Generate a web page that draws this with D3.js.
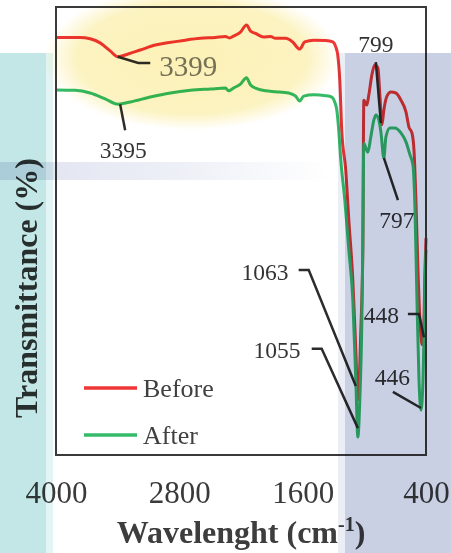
<!DOCTYPE html>
<html>
<head>
<meta charset="utf-8">
<script src="https://cdnjs.cloudflare.com/ajax/libs/d3/7.8.5/d3.min.js"></script>
<style>
body { margin:0; background:#fff; }
svg { display:block; font-family:"Liberation Serif","Times New Roman",serif; }
.overlay { mix-blend-mode: multiply; }
</style>
</head>
<body>
<script>
// FTIR spectra, wavenumber (cm-1) and transmittance (%)
var beforeWave = [4000,3766,3668,3571,3473,3399,3298,3180,3034,2917,2741,2595,2449,2351,2312,2273,2205,2146,2107,2059,1980,1912,1863,1766,1698,1629,1580,1493,1376,1307,1278,1259,1239,1220,1181,1151,1112,1083,1063,1034,1015,1005,976,956,927,898,868,849,829,810,780,741,693,644,595,566,537,517,498,478,459,439,420,410,400];
var beforeT    = [93.2,93.2,92.9,92.0,90.2,88.9,89.5,90.4,91.5,92.0,92.6,93.0,93.2,93.4,93.1,93.5,94.4,96.0,94.6,94.1,93.3,93.4,93.0,93.0,92.2,90.6,92.2,92.6,92.5,92.2,91.1,89.3,83.7,72.5,63.6,52.5,39.1,23.4,12.3,27.9,45.8,79.2,78.1,80.4,84.8,87.1,86.4,80.4,73.7,77.0,80.1,81.0,80.8,79.2,76.6,73.2,71.9,68.1,56.9,41.3,30.1,24.6,30.1,41.3,48.4];

var afterWave = [4000,3815,3668,3522,3395,3278,3083,2888,2693,2498,2351,2322,2273,2205,2146,2107,2039,1961,1863,1737,1668,1629,1590,1493,1376,1317,1288,1268,1249,1229,1190,1151,1112,1083,1063,1044,1024,1015,1005,985,966,937,907,888,859,839,810,790,751,703,644,595,556,527,507,488,468,449,429,410,400];
var afterT    = [81.5,81.4,80.8,79.5,78.3,78.8,79.9,80.8,81.4,81.7,81.9,81.3,81.9,82.8,84.2,82.6,81.7,81.3,81.1,80.8,80.1,79.0,80.1,80.4,80.2,79.9,78.8,77.0,72.5,65.8,56.9,45.8,34.6,16.7,4.0,12.3,30.1,45.8,69.6,68.5,67.6,71.0,74.8,75.9,74.8,72.1,66.3,71.0,73.0,73.0,71.9,69.9,67.0,64.7,54.7,34.6,16.7,10.0,16.7,36.8,45.8];

var tickValues = [4000, 2800, 1600, 400];
var seriesNames = ["Before", "After"];
var seriesColors = ["#ee3636", "#34bb69"];

// peak labels
var peakLabels = ["3399", "3395", "799", "797", "1063", "1055", "448", "446"];

var margin = {top:7, left:56, bottom:98, right:25};
var totalWidth = 451;
var totalHeight = 553;
var width = totalWidth - margin.left - margin.right;
var height = totalHeight - margin.top - margin.bottom;

var svgin = d3.select("body")
    .append("svg")
    .attr("width", totalWidth)
    .attr("height", totalHeight);

var defs = svgin.append("defs");
var glow = defs.append("radialGradient").attr("id", "glow");
glow.append("stop").attr("offset", "0%").attr("stop-color", "#fcf1b6");
glow.append("stop").attr("offset", "78%").attr("stop-color", "#fcf3c2");
glow.append("stop").attr("offset", "100%").attr("stop-color", "#ffffff");

var smear = defs.append("linearGradient").attr("id", "smear")
    .attr("x1", "0%").attr("y1", "0%").attr("x2", "100%").attr("y2", "0%");
smear.append("stop").attr("offset", "0%").attr("stop-color", "#dfe2f0");
smear.append("stop").attr("offset", "55%").attr("stop-color", "#eef0f7");
smear.append("stop").attr("offset", "100%").attr("stop-color", "#ffffff");

svgin.append("rect").attr("width", totalWidth).attr("height", totalHeight).attr("fill", "#fff");

var svg = svgin
    .append("g")
    .attr("transform","translate("+margin.left+","+margin.top+")");

var x = d3.scaleLinear().domain([4000, 400]).range([0, width]);
var y = d3.scaleLinear().domain([0, 100]).range([height, 0]);

var line = d3.line()
    .x(d => x(d[0]))
    .y(d => y(d[1]))
    .curve(d3.curveMonotoneX);

var series = [
  beforeWave.map((w, i) => [w, beforeT[i]]),
  afterWave.map((w, i) => [w, afterT[i]])
];

svg.selectAll("path.spec")
   .data(series)
   .enter()
   .append("path")
   .attr("class", "spec")
   .attr("d", line)
   .attr("fill", "none")
   .attr("stroke", (d, i) => seriesColors[i])
   .attr("stroke-width", 3)
   .attr("stroke-linejoin", "round");

// frame
svg.append("rect")
   .attr("width", width)
   .attr("height", height)
   .attr("fill", "none")
   .attr("stroke", "#3a3a3a")
   .attr("stroke-width", 2);

// leader lines, in data units
var notes = [
  {pts:[[3399,88.9],[3200,87.5],[3083,87.5]], at:[2995,84.6], anchor:"start", size:29, color:"#777"},
  {pts:[[3376,78.3],[3327,72.5]], at:[3346,66.3], anchor:"middle", size:23.5, color:"#333"},
  {pts:[[888,87.7],[839,74.1]], at:[888,90.0], anchor:"middle", size:23.5, color:"#333"},
  {pts:[[810,66.3],[673,56.9]], at:[683,50.7], anchor:"middle", size:23.5, color:"#333"},
  {pts:[[1639,41.3],[1541,41.3],[1083,15.4]], at:[1737,39.1], anchor:"end", size:23.5, color:"#333"},
  {pts:[[1512,23.7],[1415,23.7],[1063,6.0]], at:[1620,21.7], anchor:"end", size:23.5, color:"#333"},
  {pts:[[576,31.5],[468,31.5],[420,26.3]], at:[663,29.5], anchor:"end", size:23.5, color:"#333"},
  {pts:[[722,14.1],[449,10.5]], at:[727,15.6], anchor:"middle", size:23.5, color:"#333"}
];

var leader = d3.line().x(d => x(d[0])).y(d => y(d[1]));

svg.selectAll("path.leader")
   .data(notes)
   .enter()
   .append("path")
   .attr("class", "leader")
   .attr("d", d => leader(d.pts))
   .attr("fill", "none")
   .attr("stroke", "#2c2c2c")
   .attr("stroke-width", 2.5);

svg.selectAll("text.peak")
   .data(notes)
   .enter()
   .append("text")
   .attr("class", "peak")
   .attr("x", d => x(d.at[0]))
   .attr("y", d => y(d.at[1]))
   .attr("text-anchor", d => d.anchor)
   .attr("font-size", d => d.size)
   .attr("fill", d => d.color)
   .text((d, i) => peakLabels[i]);

// legend
var legend = svg.selectAll("g.legend")
   .data(seriesNames)
   .enter()
   .append("g")
   .attr("class", "legend")
   .attr("transform", (d, i) => "translate(28," + (381 + i*47) + ")");

legend.append("line")
   .attr("x1", 0).attr("x2", 53)
   .attr("stroke", (d, i) => seriesColors[i])
   .attr("stroke-width", 3.5);

legend.append("text")
   .attr("x", 59)
   .attr("y", 9)
   .attr("font-size", 26)
   .attr("fill", "#404040")
   .text(d => d);

// x axis
var xAxis = svg.append("g")
   .attr("transform", "translate(0," + height + ")")
   .call(d3.axisBottom(x).tickValues(tickValues).tickSize(0).tickFormat(d3.format("d")));
xAxis.select(".domain").remove();
xAxis.selectAll("text")
   .attr("y", 48)
   .attr("dy", null)
   .attr("font-family", "Liberation Serif")
   .attr("font-size", 31)
   .attr("fill", "#3a3a3a");

// axis titles
var xt = svgin.append("text")
   .attr("x", 241)
   .attr("y", 543)
   .attr("text-anchor", "middle")
   .attr("font-size", 32)
   .attr("font-weight", "bold")
   .attr("fill", "#3d3d3d");
xt.append("tspan").text("Wavelenght (cm");
xt.append("tspan").attr("font-size", 20).attr("dy", -12).text("-1");
xt.append("tspan").attr("dy", 12).text(")");

svgin.append("text")
   .attr("transform", "translate(37,288) rotate(-90)")
   .attr("text-anchor", "middle")
   .attr("font-size", 32)
   .attr("font-weight", "bold")
   .attr("fill", "#333")
   .text("Transmittance (%)");

// background tints laid over the figure
var over = svgin.append("g");
over.append("ellipse")
   .attr("class", "overlay")
   .attr("cx", 192).attr("cy", 58)
   .attr("rx", 148).attr("ry", 72)
   .attr("fill", "url(#glow)");
over.append("rect")
   .attr("class", "overlay")
   .attr("x", 0).attr("y", 162).attr("width", 330).attr("height", 18)
   .attr("fill", "url(#smear)");
over.append("rect")
   .attr("class", "overlay")
   .attr("x", 0).attr("y", 53).attr("width", 46).attr("height", 500)
   .attr("fill", "#c3e7e6");
over.append("rect")
   .attr("class", "overlay")
   .attr("x", 46).attr("y", 53).attr("width", 7).attr("height", 500)
   .attr("fill", "#e2f4f3");
over.append("rect")
   .attr("class", "overlay")
   .attr("x", 338).attr("y", 53).attr("width", 7).attr("height", 500)
   .attr("fill", "#eceef6");
over.append("rect")
   .attr("class", "overlay")
   .attr("x", 345).attr("y", 53).attr("width", 106).attr("height", 500)
   .attr("fill", "#c9d0e4");
</script>
</body>
</html>
